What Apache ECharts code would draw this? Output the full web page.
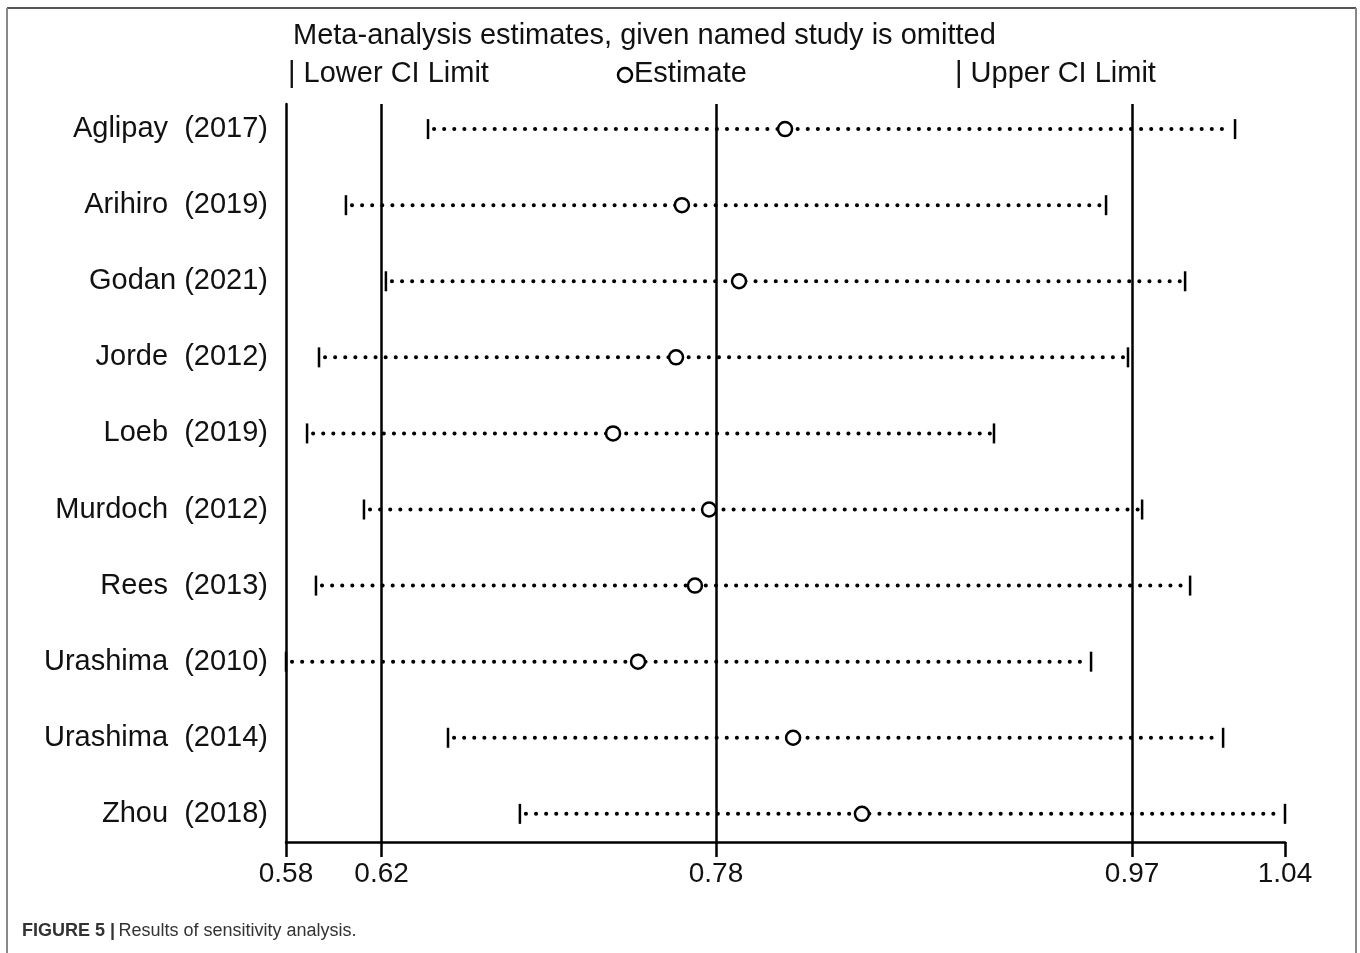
<!DOCTYPE html>
<html>
<head>
<meta charset="utf-8">
<script src="https://cdn.jsdelivr.net/npm/echarts@6/dist/echarts.min.js"></script>
<style>
html,body{margin:0;padding:0;background:#fff;}
#chart{width:1360px;height:953px;}
</style>
</head>
<body>
<div id="chart"></div>
<script>
// ---- data ----
const studies = ['Aglipay  (2017)', 'Arihiro  (2019)', 'Godan (2021)', 'Jorde  (2012)', 'Loeb  (2019)',
  'Murdoch  (2012)', 'Rees  (2013)', 'Urashima  (2010)', 'Urashima  (2014)', 'Zhou  (2018)'];
const lowerCI = [0.6454, 0.6076, 0.6260, 0.5952, 0.5897, 0.6159, 0.5938, 0.5800, 0.6546, 0.6877];
const estimates = [0.8098, 0.7623, 0.7886, 0.7596, 0.7306, 0.7748, 0.7683, 0.7421, 0.8135, 0.8452];
const upperCI = [1.0170, 0.9576, 0.9940, 0.9677, 0.9060, 0.9742, 0.9963, 0.9507, 1.0115, 1.0400];
const xTickValues = [0.58, 0.624, 0.778, 0.9696, 1.04];
const xTickLabels = ['0.58', '0.62', '0.78', '0.97', '1.04'];
const refLines = [0.624, 0.778, 0.9696];
const rowIndex = studies.map((s, i) => i + 1);

const FONT = '"Liberation Sans", Arial, sans-serif';
const chart = echarts.init(document.getElementById('chart'));

const whiskerData = studies.map((s, i) => [rowIndex[i], lowerCI[i], upperCI[i]]);
const estData = studies.map((s, i) => [estimates[i], rowIndex[i]]);

chart.setOption({
  animation: false,
  backgroundColor: '#fff',
  grid: { left: 286, right: 75, top: 104, bottom: 111, containLabel: false },
  xAxis: {
    type: 'value', min: 0.58, max: 1.04,
    splitLine: { show: false },
    axisLine: { show: true, lineStyle: { color: '#000', width: 2.5 } },
    axisTick: { show: true, customValues: xTickValues, length: 15, lineStyle: { color: '#000', width: 2.5 } },
    axisLabel: {
      customValues: xTickValues, margin: 18, fontSize: 28, color: '#111', fontFamily: FONT,
      formatter: function (v) {
        let best = 0;
        xTickValues.forEach((t, i) => { if (Math.abs(t - v) < Math.abs(xTickValues[best] - v)) best = i; });
        return xTickLabels[best];
      }
    }
  },
  yAxis: {
    type: 'value', inverse: true, min: 0.67, max: 10.37,
    splitLine: { show: false },
    axisLine: { show: true, lineStyle: { color: '#000', width: 2.5 } },
    axisTick: { show: false },
    axisLabel: {
      customValues: rowIndex, margin: 18, fontSize: 29, color: '#111', fontFamily: FONT,
      formatter: function (v) { return studies[Math.round(v) - 1]; }
    }
  },
  series: [
    {
      type: 'custom',
      data: whiskerData,
      encode: { x: [1, 2], y: 0 },
      renderItem: function (params, api) {
        const y = api.value(0);
        const p1 = api.coord([api.value(1), y]);
        const p2 = api.coord([api.value(2), y]);
        const h = 10;
        return {
          type: 'group',
          children: [
            { type: 'line', shape: { x1: p1[0] + 6, y1: p1[1], x2: p2[0] - 4, y2: p2[1] },
              style: { stroke: '#000', lineWidth: 4, lineDash: [0.1, 10], lineCap: 'round' } },
            { type: 'line', shape: { x1: p1[0], y1: p1[1] - h, x2: p1[0], y2: p1[1] + h },
              style: { stroke: '#000', lineWidth: 2.5 } },
            { type: 'line', shape: { x1: p2[0], y1: p2[1] - h, x2: p2[0], y2: p2[1] + h },
              style: { stroke: '#000', lineWidth: 2.5 } }
          ]
        };
      },
      z: 2
    },
    {
      type: 'scatter',
      data: estData,
      symbol: 'circle',
      symbolSize: 14,
      itemStyle: { color: '#fff', borderColor: '#000', borderWidth: 2.5, opacity: 1 },
      markLine: {
        silent: true, symbol: 'none', label: { show: false }, precision: 6,
        lineStyle: { color: '#000', width: 2.5, type: 'solid' },
        data: refLines.map(v => ({ xAxis: v }))
      },
      z: 3
    }
  ],
  graphic: [
    { type: 'line', shape: { x1: 7, y1: 8, x2: 1356, y2: 8 }, style: { stroke: '#555', lineWidth: 2 } },
    { type: 'line', shape: { x1: 7, y1: 8, x2: 7, y2: 953 }, style: { stroke: '#888', lineWidth: 2 } },
    { type: 'line', shape: { x1: 1356, y1: 8, x2: 1356, y2: 953 }, style: { stroke: '#888', lineWidth: 2 } },
    { type: 'text', left: 293, top: 21, style: { text: 'Meta-analysis estimates, given named study is omitted', font: '29px ' + FONT, fill: '#111' } },
    { type: 'text', left: 288, top: 59, style: { text: '| Lower CI Limit', font: '29px ' + FONT, fill: '#111' } },
    { type: 'circle', shape: { cx: 625, cy: 75, r: 7 }, style: { fill: '#fff', stroke: '#000', lineWidth: 2.5 } },
    { type: 'text', left: 634, top: 59, style: { text: 'Estimate', font: '29px ' + FONT, fill: '#111' } },
    { type: 'text', left: 955, top: 59, style: { text: '| Upper CI Limit', font: '29px ' + FONT, fill: '#111' } },
    { type: 'text', left: 22, top: 922, style: {
        text: '{b|FIGURE 5 |} {n|Results of sensitivity analysis.}',
        rich: {
          b: { fontFamily: FONT, fontWeight: 'bold', fontSize: 18, fill: '#333', color: '#333' },
          n: { fontFamily: FONT, fontSize: 18, fill: '#333', color: '#333' }
        }
      } }
  ]
});
</script>
</body>
</html>
